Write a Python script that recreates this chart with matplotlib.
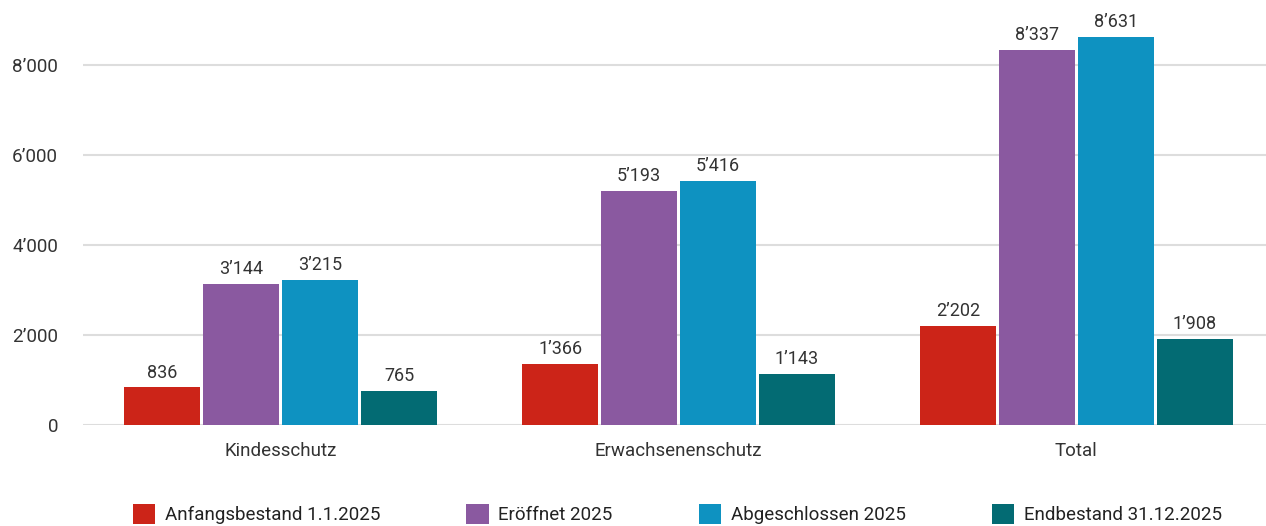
import numpy as np
import matplotlib.pyplot as plt
from matplotlib.ticker import FuncFormatter

categories = ["Kindesschutz", "Erwachsenenschutz", "Total"]
series = ["Anfangsbestand 1.1.2025", "Eröffnet 2025", "Abgeschlossen 2025", "Endbestand 31.12.2025"]
anfang = [836, 1366, 2202]
eroeffnet = [3144, 5193, 8337]
abgeschlossen = [3215, 5416, 8631]
endbestand = [765, 1143, 1908]
colors = ["#cc2418", "#8a59a0", "#0e92c1", "#036b73"]

plt.rcParams['font.family'] = ['Roboto', 'DejaVu Sans']


def fmt(v):
    # Swiss thousands separator
    return f"{int(v):,}".replace(",", "\u2019")


fig = plt.figure(figsize=(12.66, 5.26), dpi=100)
ax = fig.add_axes([0.0656, 0.192, 0.9344, 0.77])

x = np.arange(len(categories))
step = 0.1985
width = 0.191
values = [anfang, eroeffnet, abgeschlossen, endbestand]
for i, (vals, name, c) in enumerate(zip(values, series, colors)):
    pos = x + (i - 1.5) * step
    bars = ax.bar(pos, vals, width, color=c, label=name, zorder=3)
    for b, v in zip(bars, vals):
        ax.text(b.get_x() + b.get_width() / 2, v + 130, fmt(v), ha='center', va='bottom',
                fontsize=13, color='#333333', zorder=4)

ax.set_xlim(-0.497, 2.477)
ax.set_ylim(0, 9000)
ax.set_yticks([0, 2000, 4000, 6000, 8000])
ax.yaxis.set_major_formatter(FuncFormatter(lambda v, p: fmt(v)))
ax.set_xticks(x)
ax.set_xticklabels(categories)
ax.grid(axis='y', color='#dddddd', linewidth=1.5, zorder=0)
for s in ax.spines.values():
    s.set_visible(False)
ax.tick_params(axis='both', length=0, labelsize=13.5, colors='#333333')
ax.tick_params(axis='y', pad=18)
ax.tick_params(axis='x', pad=12)

fig.legend(loc='center', bbox_to_anchor=(0.535, 0.022), ncol=4, frameon=False,
           fontsize=13.5, handlelength=1.2, handleheight=1.2, handletextpad=0.5,
           columnspacing=4.6, labelcolor='#222222')

fig.savefig("out.png", dpi=100)
